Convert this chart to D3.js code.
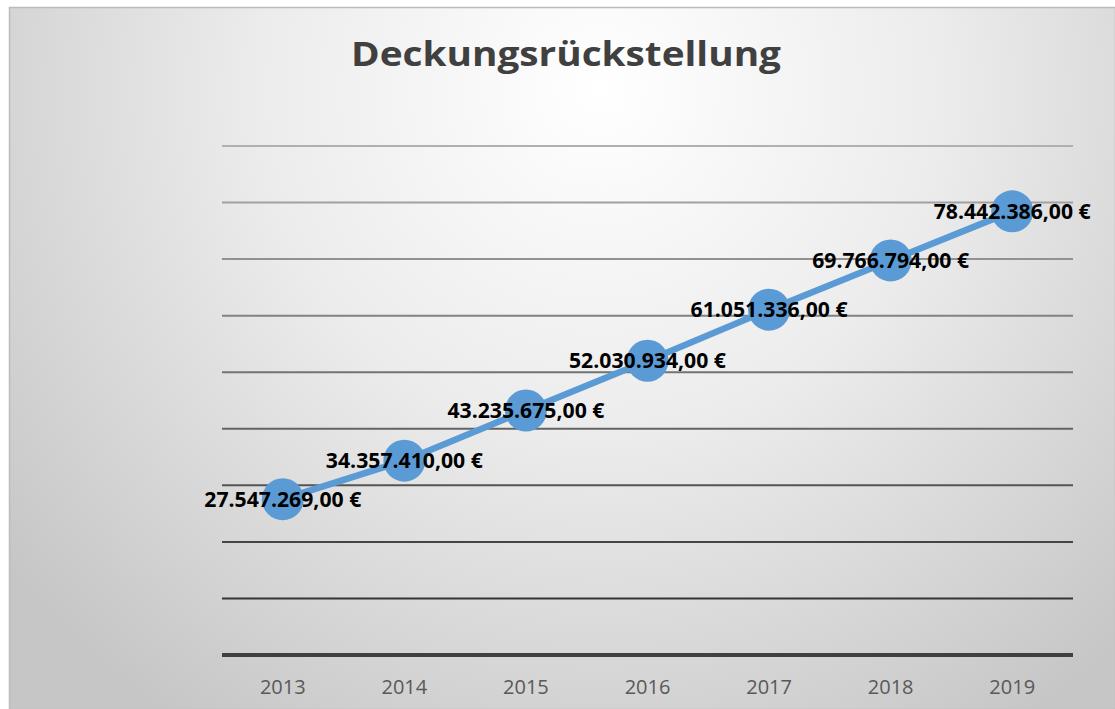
<!DOCTYPE html>
<html><head><meta charset="utf-8">
<script src="https://cdn.jsdelivr.net/npm/d3@7"></script>
<style>html,body{margin:0;padding:0;background:#fff;}svg{display:block;}</style>
</head><body>
<svg id="chart" width="1115" height="709"></svg>
<script>
const title = "Deckungsrückstellung";
const years = ["2013","2014","2015","2016","2017","2018","2019"];
const values = [27547269, 34357410, 43235675, 52030934, 61051336, 69766794, 78442386];
const yTicks = [0,10000000,20000000,30000000,40000000,50000000,60000000,70000000,80000000,90000000];

const svg = d3.select("#chart");
const W = 1115, H = 709;
const defs = svg.append("defs");
const rg = defs.append("radialGradient").attr("id","bg")
  .attr("gradientUnits","userSpaceOnUse")
  .attr("cx",600).attr("cy",90).attr("r",760).attr("fx",600).attr("fy",90);
rg.append("stop").attr("offset","0%").attr("stop-color","#ffffff");
rg.append("stop").attr("offset","45%").attr("stop-color","#ececec");
rg.append("stop").attr("offset","100%").attr("stop-color","#c6c6c6");

svg.append("rect").attr("x",9.5).attr("y",7.5).attr("width",W-9).attr("height",H-7)
  .attr("fill","url(#bg)").attr("stroke","#bcbcbc").attr("stroke-width",1.5);

const x = d3.scaleBand().domain(years).range([222,1073]);
const y = d3.scaleLinear().domain([0,90000000]).range([655,146]);

const gridColor = d3.scaleLinear().domain([90000000,0]).range(["#b0b0b0","#262626"]);
svg.append("g").selectAll("line").data(yTicks.filter(d=>d>0)).join("line")
  .attr("x1",222).attr("x2",1073)
  .attr("y1",d=>y(d)).attr("y2",d=>y(d))
  .attr("stroke",d=>gridColor(d)).attr("stroke-width",2);

// x axis
const xAxis = svg.append("g").attr("transform","translate(0,655)")
  .call(d3.axisBottom(x).tickSize(0).tickPadding(0));
xAxis.select(".domain").remove();
svg.append("line").attr("x1",222).attr("x2",1073).attr("y1",y(0)).attr("y2",y(0))
  .attr("stroke","#404040").attr("stroke-width",4);
xAxis.selectAll("text").attr("dy",0).attr("y",39)
  .attr("font-family","'Open Sans', sans-serif").attr("font-size",20)
  .attr("fill","#595959");

// title
svg.append("text").attr("x",566).attr("y",66).attr("text-anchor","middle")
  .attr("font-family","'Open Sans', sans-serif").attr("font-weight","bold")
  .attr("font-size",34).attr("fill","#404040")
  .attr("textLength",430).attr("lengthAdjust","spacingAndGlyphs")
  .text(title);

const cx = d => x(d) + x.bandwidth()/2;
const data = years.map((yr,i)=>({yr, v: values[i]}));

svg.append("path").datum(data)
  .attr("d", d3.line().x(d=>cx(d.yr)).y(d=>y(d.v)))
  .attr("fill","none").attr("stroke","#5B9BD5").attr("stroke-width",6.5)
  .attr("stroke-linecap","round");

svg.append("g").selectAll("circle").data(data).join("circle")
  .attr("cx",d=>cx(d.yr)).attr("cy",d=>y(d.v)).attr("r",21)
  .attr("fill","#5B9BD5");

const fmt = v => {
  const s = String(v).replace(/\B(?=(\d{3})+(?!\d))/g, ".");
  return s + ",00 €";
};
svg.append("g").selectAll("text").data(data).join("text")
  .attr("x",d=>cx(d.yr)).attr("y",d=>y(d.v)+7.5)
  .attr("text-anchor","middle")
  .attr("font-family","'Open Sans', sans-serif").attr("font-weight","bold")
  .attr("font-size",20.5).attr("fill","#000")
  .attr("textLength",157).attr("lengthAdjust","spacingAndGlyphs")
  .text(d=>fmt(d.v));
</script>
</body></html>
